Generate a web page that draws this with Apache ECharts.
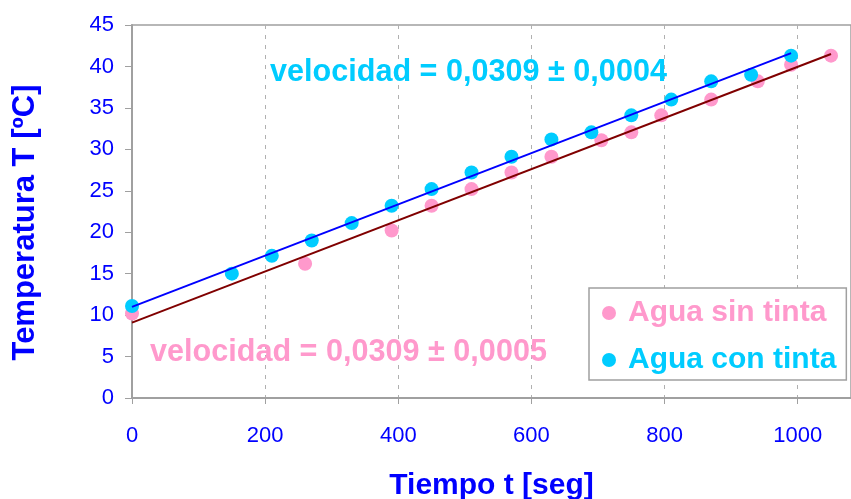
<!DOCTYPE html>
<html>
<head>
<meta charset="utf-8">
<script src="https://cdn.jsdelivr.net/npm/echarts@6/dist/echarts.min.js"></script>
<style>
html,body{margin:0;padding:0;background:#fff;}
#chart{width:851px;height:499px;}
</style>
</head>
<body>
<div id="chart"></div>
<script>
// Data
var sinTintaT = [0, 260, 390, 450, 510, 570, 630, 705, 750, 795, 870, 940, 990, 1050];
var sinTintaTemp = [10.2, 16.2, 20.2, 23.2, 25.2, 27.2, 29.1, 31.1, 32.05, 34.1, 36.0, 38.2, 40.2, 41.3];
var conTintaT = [0, 150, 210, 270, 330, 390, 450, 510, 570, 630, 690, 750, 810, 870, 930, 990];
var conTintaTemp = [11.1, 15.0, 17.15, 19.0, 21.1, 23.2, 25.2, 27.2, 29.1, 31.2, 32.05, 34.1, 36.0, 38.2, 39.0, 41.3];
// trend line end points
var fitSinT = [0, 1050];
var fitSinTemp = [9.1, 41.5];
var fitConT = [0, 990];
var fitConTemp = [11.0, 41.6];
var xTicks = [0, 200, 400, 600, 800, 1000];
var yTicks = [0, 5, 10, 15, 20, 25, 30, 35, 40, 45];
var seriesNames = ['Agua sin tinta', 'Agua con tinta'];
var labelSin = 'velocidad = 0,0309 ± 0,0005';
var labelCon = 'velocidad = 0,0309 ± 0,0004';

function pairs(xs, ys) { return xs.map(function (x, i) { return [x, ys[i]]; }); }

var PINK = '#FF99CC', CYAN = '#00CCFF', BLUE = '#0000FF', BROWN = '#800000';
var FONT = '"Liberation Sans", Arial, sans-serif';

var chart = echarts.init(document.getElementById('chart'), null, {renderer: 'canvas'});
chart.setOption({
  backgroundColor: '#ffffff',
  animation: false,
  textStyle: {fontFamily: FONT},
  grid: {left: 132, top: 25, right: 0, bottom: 101, containLabel: false, outerBoundsMode: 'none',
    show: true, borderColor: '#a0a0a0', borderWidth: 1.5, backgroundColor: 'transparent'},
  xAxis: {
    type: 'value', min: xTicks[0], max: 1080, interval: xTicks[1] - xTicks[0],
    name: 'Tiempo t [seg]', nameLocation: 'middle', nameGap: 73,
    nameTextStyle: {color: BLUE, fontSize: 30, fontWeight: 'bold', fontFamily: FONT},
    axisLine: {lineStyle: {color: '#a0a0a0', width: 2}},
    axisTick: {show: true, length: 6, lineStyle: {color: '#a0a0a0', width: 1}},
    axisLabel: {color: BLUE, fontSize: 22, margin: 27, fontFamily: FONT, showMaxLabel: false,
      formatter: function (v) { return String(v); }},
    splitLine: {show: true, lineStyle: {color: '#b0b0b0', width: 1, type: [4, 6]}}
  },
  yAxis: {
    type: 'value', min: yTicks[0], max: yTicks[yTicks.length - 1], interval: yTicks[1] - yTicks[0],
    name: 'Temperatura T [ºC]', nameLocation: 'middle', nameGap: 91,
    nameTextStyle: {color: BLUE, fontSize: 31, fontWeight: 'bold', fontFamily: FONT, padding: [0, 22, 0, 0]},
    axisLine: {show: true, lineStyle: {color: '#a0a0a0', width: 2}},
    axisTick: {show: true, length: 7, lineStyle: {color: '#a0a0a0', width: 1}},
    axisLabel: {color: BLUE, fontSize: 22, margin: 18, fontFamily: FONT,
      formatter: function (v) { return String(v); }},
    splitLine: {show: false}
  },
  legend: {
    data: seriesNames.map(function (n, i) { return {name: n, itemStyle: {color: i === 0 ? PINK : CYAN}, textStyle: {color: i === 0 ? PINK : CYAN}}; }),
    orient: 'vertical', left: 589, top: 288,
    padding: [10, 10, 5, 13], itemGap: 17,
    icon: 'circle', itemWidth: 28, itemHeight: 14,
    borderColor: '#a0a0a0', borderWidth: 1.5, backgroundColor: '#fff',
    textStyle: {fontSize: 30, fontWeight: 'bold', fontFamily: FONT, lineHeight: 30, padding: [0, 0, 0, 0]},
    selectedMode: false
  },
  graphic: [
    {type: 'text', left: 270, top: 57, z: 100, style: {text: labelCon, fill: CYAN, font: 'bold 30.6px ' + FONT}},
    {type: 'text', left: 150, top: 337, z: 100, style: {text: labelSin, fill: PINK, font: 'bold 30.6px ' + FONT}}
  ],
  series: [
    {name: seriesNames[0], type: 'scatter', data: pairs(sinTintaT, sinTintaTemp), symbol: 'circle', symbolSize: 14, itemStyle: {color: PINK, opacity: 1}, z: 2},
    {name: seriesNames[1], type: 'scatter', data: pairs(conTintaT, conTintaTemp), symbol: 'circle', symbolSize: 14, itemStyle: {color: CYAN, opacity: 1}, z: 3},
    {name: 'fit sin', type: 'line', data: pairs(fitSinT, fitSinTemp), showSymbol: false, symbol: 'none', lineStyle: {color: BROWN, width: 2}, z: 4},
    {name: 'fit con', type: 'line', data: pairs(fitConT, fitConTemp), showSymbol: false, symbol: 'none', lineStyle: {color: BLUE, width: 2}, z: 5}
  ]
});
</script>
</body>
</html>
